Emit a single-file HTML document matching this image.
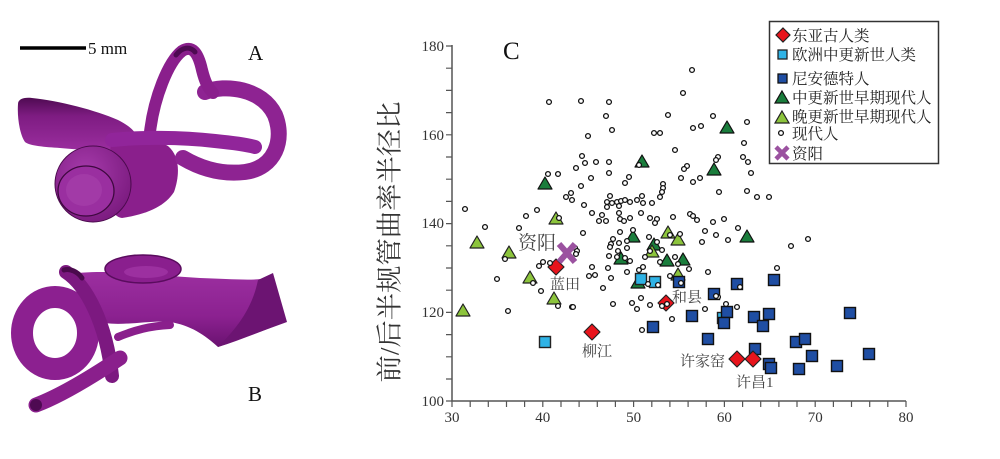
<!DOCTYPE html>
<html>
<head>
<meta charset="utf-8">
<style>
html,body{margin:0;padding:0;background:#fff;}
svg{display:block;}
.tk{font-family:"Liberation Serif",serif;font-size:15px;fill:#333;}
.cj{font-family:"Liberation Serif","Noto Serif CJK SC",serif;}
.mk{fill:none;stroke:none;}
</style>
</head>
<body>
<svg width="1000" height="459" viewBox="0 0 1000 459" xmlns="http://www.w3.org/2000/svg">
<defs>
<linearGradient id="gA" x1="0" y1="0" x2="0" y2="1"><stop offset="0" stop-color="#4f0a52"/><stop offset="0.35" stop-color="#7e1c82"/><stop offset="1" stop-color="#9a2d9e"/></linearGradient>
<linearGradient id="gB" x1="0" y1="0" x2="0" y2="1"><stop offset="0" stop-color="#9c2fa0"/><stop offset="0.6" stop-color="#8b2190"/><stop offset="1" stop-color="#6a1270"/></linearGradient>
<radialGradient id="gC" cx="0.4" cy="0.35" r="0.7"><stop offset="0" stop-color="#a63bab"/><stop offset="1" stop-color="#7a1a7e"/></radialGradient>
<marker id="mc" markerWidth="8" markerHeight="8" refX="4" refY="4" markerUnits="userSpaceOnUse" overflow="visible"><circle cx="4" cy="4" r="2.4" fill="#fff" stroke="#111" stroke-width="1.3"/></marker>
<marker id="mdb" markerWidth="14" markerHeight="14" refX="7" refY="7" markerUnits="userSpaceOnUse" overflow="visible"><rect x="1.5" y="1.5" width="11" height="11" fill="#1f4ea3" stroke="#111" stroke-width="1.4"/></marker>
<marker id="mlb" markerWidth="14" markerHeight="14" refX="7" refY="7" markerUnits="userSpaceOnUse" overflow="visible"><rect x="1.5" y="1.5" width="11" height="11" fill="#2fb3e6" stroke="#222" stroke-width="1.4"/></marker>
<marker id="mdg" markerWidth="16" markerHeight="16" refX="8" refY="8" markerUnits="userSpaceOnUse" overflow="visible"><polygon points="8,1 15,13 1,13" fill="#1a7d3c" stroke="#111" stroke-width="1.2" stroke-linejoin="round"/></marker>
<marker id="mlg" markerWidth="16" markerHeight="16" refX="8" refY="8" markerUnits="userSpaceOnUse" overflow="visible"><polygon points="8,1 15,13 1,13" fill="#8cc43c" stroke="#222" stroke-width="1.2" stroke-linejoin="round"/></marker>
<marker id="mrd" markerWidth="18" markerHeight="18" refX="9" refY="9" markerUnits="userSpaceOnUse" overflow="visible"><polygon points="9,1 17,9 9,17 1,9" fill="#e8141c" stroke="#222" stroke-width="1.2" stroke-linejoin="round"/></marker>
</defs>

<!-- Figure A -->
<line x1="20" y1="48" x2="86" y2="48" stroke="#000" stroke-width="3.5"/>
<text x="88" y="54" style="font-family:'Liberation Serif',serif;font-size:17px;fill:#111;">5 mm</text>
<text x="248" y="60" style="font-family:'Liberation Serif',serif;font-size:21px;fill:#111;">A</text>
<path d="M18,104 C18,99 24,97 32,98 C60,101 95,110 118,120 C128,125 134,130 137,136 L128,148 C110,151 80,150 60,148 C45,147 30,146 25,142 C20,135 17,118 18,104 Z" fill="url(#gA)"/>
<path d="M112,140 C128,134 150,136 168,146 C180,156 180,175 174,192 C165,206 148,214 122,218 C106,216 104,180 112,140 Z" fill="#8a1f8c"/>
<path d="M205,92 C225,84 262,88 275,115 C285,140 275,168 245,172 C220,175 200,168 183,158" fill="none" stroke="#8e2392" stroke-width="16" stroke-linecap="round"/>
<path d="M150,132 C154,98 168,62 182,51 C192,45 198,52 202,70 C205,82 208,88 213,93" fill="none" stroke="#8a1f8c" stroke-width="12" stroke-linecap="round"/>
<path d="M176,55 C182,47 190,46 195,52" fill="none" stroke="#4e0a52" stroke-width="5" stroke-linecap="round"/>
<path d="M112,140 C140,137 180,137 215,141 C235,143 248,145 255,147" fill="none" stroke="#91259a" stroke-width="14" stroke-linecap="round"/>
<ellipse cx="93" cy="184" rx="38" ry="38" fill="url(#gC)" stroke="#4a0a4c" stroke-width="1"/>
<ellipse cx="86" cy="191" rx="28" ry="25" fill="#9a2fa0" stroke="#3e083f" stroke-width="1.3"/>
<ellipse cx="84" cy="190" rx="18" ry="16" fill="#a23aa7"/>

<!-- Figure B -->
<text x="248" y="401" style="font-family:'Liberation Serif',serif;font-size:21px;fill:#111;">B</text>
<path d="M65,275 C100,268 150,275 200,278 C230,279 255,281 268,278 L285,322 C265,330 240,340 218,347 C205,335 190,325 170,322 C150,320 125,326 105,323 Z" fill="url(#gB)"/>
<path d="M258,280 L273,273 L287,322 L218,347 C235,330 252,310 258,280 Z" fill="#6c1472"/>
<ellipse cx="143" cy="269" rx="38" ry="14" fill="#8a1f8e" stroke="#5a0c5e" stroke-width="1.5"/>
<ellipse cx="146" cy="272" rx="22" ry="6" fill="#9c30a0"/>
<ellipse cx="55" cy="333" rx="33" ry="36" fill="none" stroke="#8c2090" stroke-width="22"/>
<path d="M118,337 C135,330 150,326 170,325" fill="none" stroke="#8a1f8c" stroke-width="8" stroke-linecap="round"/>
<path d="M66,272 C86,285 106,322 112,376" fill="none" stroke="#7c1980" stroke-width="14" stroke-linecap="round"/>
<path d="M64,270 C70,268 78,272 82,278" fill="none" stroke="#4a0a4c" stroke-width="5" stroke-linecap="round"/>
<path d="M36,405 C60,396 90,378 120,358" fill="none" stroke="#8a1f8c" stroke-width="15" stroke-linecap="round"/>
<circle cx="36" cy="405" r="6" fill="#4e0a52"/>

<!-- Chart C -->
<text x="503" y="59" style="font-family:'Liberation Serif',serif;font-size:25px;fill:#111;">C</text>
<path d="M452,45V401H906" fill="none" stroke="#555" stroke-width="1.5"/>
<path stroke="#555" stroke-width="1.2" fill="none" d="M446,46h6M446,68.2h6M446,90.4h6M446,112.6h6M446,134.8h6M446,157h6M446,179.2h6M446,201.4h6M446,223.6h6M446,245.8h6M446,268h6M446,290.2h6M446,312.4h6M446,334.6h6M446,356.8h6M446,379h6M446,401h6M452,401v6M470.2,401v6M488.3,401v6M506.5,401v6M524.6,401v6M542.8,401v6M561,401v6M579.1,401v6M597.3,401v6M615.4,401v6M633.6,401v6M651.8,401v6M669.9,401v6M688.1,401v6M706.2,401v6M724.4,401v6M742.6,401v6M760.7,401v6M778.9,401v6M797,401v6M815.2,401v6M833.4,401v6M851.5,401v6M869.7,401v6M887.8,401v6M906,401v6"/>
<g class="tk" text-anchor="end">
<text x="444" y="51">180</text><text x="444" y="140">160</text><text x="444" y="228">140</text><text x="444" y="317">120</text><text x="444" y="406">100</text>
</g>
<g class="tk" text-anchor="middle">
<text x="452" y="422">30</text><text x="542.8" y="422">40</text><text x="633.6" y="422">50</text><text x="724.4" y="422">60</text><text x="815.2" y="422">70</text><text x="906" y="422">80</text>
</g>
<text class="cj" transform="translate(390,242) rotate(-90)" text-anchor="middle" dominant-baseline="central" style="font-size:26px;fill:#333;" textLength="281" lengthAdjust="spacingAndGlyphs">前/后半规管曲率半径比</text>

<polyline class="mk" marker-start="url(#mdg)" marker-mid="url(#mdg)" marker-end="url(#mdg)" points="545,184 642,162 727,128 714,170 747,237 633,237 654,245 621,259 667,261 683,260 638,283"/>
<polyline class="mk" marker-start="url(#mlg)" marker-mid="url(#mlg)" marker-end="url(#mlg)" points="556,219 477,243 509,253 530,278 554,299 463,311 668,233 678,240 652,252 678,275"/>
<polyline class="mk" marker-start="url(#mlb)" marker-mid="url(#mlb)" marker-end="url(#mlb)" points="545,342 641,279 655,282 723,318"/>
<polyline class="mk" marker-start="url(#mdb)" marker-mid="url(#mdb)" marker-end="url(#mdb)" points="737,284 774,280 714,294 692,316 653,327 727,312 724,323 754,317 769,314 763,326 708,339 850,313 755,349 796,342 805,339 812,356 869,354 769,364 771,368 799,369 837,366 679,282"/>
<polyline class="mk" marker-start="url(#mrd)" marker-mid="url(#mrd)" marker-end="url(#mrd)" points="556,267 592,332 666,303 737,359 753,359"/>
<polyline class="mk" marker-start="url(#mc)" marker-mid="url(#mc)" marker-end="url(#mc)" points="692,70 683,93 549,102 581,101 609,102 606,116 668,115 713,116 612,130 588,136 654,133 660,133 693,128 701,126 747,122 744,143 675,150 743,157 748,162 718,157 716,160 687,166 684,169 751,173 639,165 582,156 585,163 596,162 609,162 576,168 548,174 558,174 609,173 591,178 581,186 629,177 625,183 663,184 663,188 662,192 660,197 681,178 693,182 700,178 719,192 747,191 757,197 769,197 571,193 566,197 572,200 610,196 584,205 607,202 612,203 617,202 621,201 625,200 630,202 637,200 642,196 643,203 652,203 607,207 619,206 465,209 537,210 526,216 592,213 602,215 599,221 606,221 619,213 620,219 624,221 630,218 641,213 650,218 657,219 655,223 673,217 690,214 693,216 697,220 713,222 724,219 738,228 559,218 485,227 519,228 633,230 583,233 705,231 716,235 728,240 702,242 791,246 808,239 620,232 627,241 619,243 613,239 611,244 618,251 627,248 649,237 650,251 657,242 662,250 670,235 680,234 610,247 609,256 617,257 625,258 630,261 645,257 660,262 675,257 678,264 689,269 708,272 777,268 575,248 577,251 576,254 543,262 539,266 550,263 505,259 497,279 533,283 541,291 558,306 572,307 508,311 592,267 589,276 595,275 608,268 611,278 627,272 639,270 643,267 603,288 613,304 648,284 658,285 670,276 681,283 641,298 650,305 573,307 632,303 637,309 662,306 642,330 672,319 718,297 737,307 726,304 705,309 740,287 716,296 667,304"/>

<path d="M559,244L575,262M575,244L559,262" stroke="#9b52a0" stroke-width="6"/>

<g class="cj" style="fill:#444;">
<text x="518" y="249" style="font-size:19px;">资阳</text>
<text x="550" y="289" style="font-size:15px;">蓝田</text>
<text x="582" y="356" style="font-size:15px;">柳江</text>
<text x="672" y="302" style="font-size:15px;">和县</text>
<text x="680" y="366" style="font-size:15px;">许家窑</text>
<text x="736" y="387" style="font-size:15px;">许昌1</text>
</g>

<rect x="769.5" y="21.5" width="169" height="142" fill="#fff" stroke="#333" stroke-width="1.5"/>
<polygon points="783,28 790,35 783,42 776,35" fill="#e8141c" stroke="#222" stroke-width="1.2"/>
<rect x="778" y="50" width="9" height="9" fill="#2fb3e6" stroke="#222" stroke-width="1.3"/>
<rect x="778" y="74" width="9" height="9" fill="#1f4ea3" stroke="#111" stroke-width="1.3"/>
<polygon points="782,91 789,103 775,103" fill="#1a7d3c" stroke="#111" stroke-width="1.2"/>
<polygon points="782,111 789,123 775,123" fill="#8cc43c" stroke="#222" stroke-width="1.2"/>
<circle cx="781" cy="133" r="2.4" fill="#fff" stroke="#111" stroke-width="1.3"/>
<path d="M776,147L788,159M788,147L776,159" stroke="#9b52a0" stroke-width="4.5"/>
<g class="cj" style="font-size:15.5px;fill:#222;">
<text x="792" y="41">东亚古人类</text>
<text x="792" y="60">欧洲中更新世人类</text>
<text x="792" y="84">尼安德特人</text>
<text x="792" y="103">中更新世早期现代人</text>
<text x="792" y="122">晚更新世早期现代人</text>
<text x="792" y="139">现代人</text>
<text x="792" y="159">资阳</text>
</g>
</svg>
</body>
</html>
